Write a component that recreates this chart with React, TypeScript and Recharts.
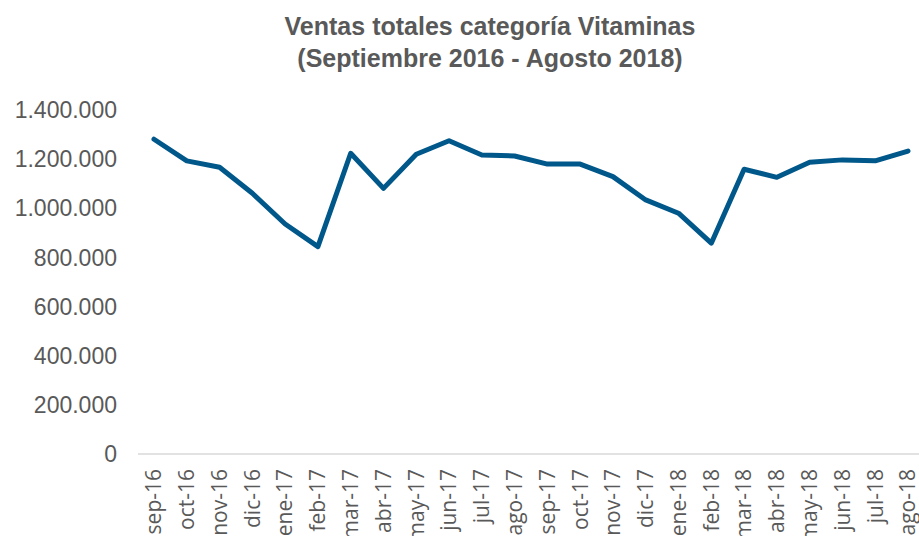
import React from 'react';
import { LineChart, Line, XAxis, YAxis } from 'recharts';

const months = [
  'sep-16', 'oct-16', 'nov-16', 'dic-16', 'ene-17', 'feb-17', 'mar-17', 'abr-17',
  'may-17', 'jun-17', 'jul-17', 'ago-17', 'sep-17', 'oct-17', 'nov-17', 'dic-17',
  'ene-18', 'feb-18', 'mar-18', 'abr-18', 'may-18', 'jun-18', 'jul-18', 'ago-18',
];

const ventas = [
  1281000, 1193000, 1167000, 1061000, 936000, 844000, 1224000, 1081000,
  1220000, 1275000, 1217000, 1213000, 1180000, 1180000, 1129000, 1034000,
  980000, 858000, 1159000, 1126000, 1187000, 1197000, 1193000, 1233000,
];

const yTicks = [0, 200000, 400000, 600000, 800000, 1000000, 1200000, 1400000];

const data = months.map((m, i) => ({ mes: m, ventas: ventas[i] }));

const grey = '#595959';

const fmt = (v: number) => String(v).replace(/\B(?=(\d{3})+(?!\d))/g, '.');

const MonthTick = (props: any) => {
  const { x, y, payload } = props;
  return (
    <g transform={`translate(${x},${y + 7})`}>
      <text
        x={0}
        y={0}
        dy="0.35em"
        textAnchor="end"
        transform="rotate(-90)"
        fill={grey}
        fontSize={21}
        fontFamily="'Open Sans', sans-serif"
      >
        {payload.value}
      </text>
    </g>
  );
};

export default function App() {
  return (
    <div style={{ position: 'absolute', left: 0, top: 0, width: 919, height: 536, overflow: 'hidden', background: '#fff' }}>
      <div
        style={{
          position: 'absolute',
          left: 0,
          width: 980,
          top: 10,
          textAlign: 'center',
          fontFamily: "'Liberation Sans', Arial, sans-serif",
          fontWeight: 'bold',
          fontSize: 25,
          lineHeight: '32px',
          color: grey,
        }}
      >
        Ventas totales categoría Vitaminas
        <br />
        (Septiembre 2016 - Agosto 2018)
      </div>
      <LineChart width={930} height={536} data={data} margin={{ top: 110, right: 6, bottom: 0, left: 0 }}>
        <XAxis
          dataKey="mes"
          interval={0}
          height={82}
          tickLine={false}
          tick={<MonthTick />}
          axisLine={{ stroke: '#d9d9d9', strokeWidth: 1.5 }}
          padding={{ left: 16, right: 16 }}
        />
        <YAxis
          width={138}
          domain={[0, 1400000]}
          ticks={yTicks}
          tickFormatter={fmt}
          axisLine={false}
          tickLine={false}
          tickMargin={15}
          tick={{ fill: grey, fontSize: 23, fontFamily: "'Liberation Sans', Arial, sans-serif" }}
        />
        <Line
          type="linear"
          dataKey="ventas"
          stroke="#00578a"
          strokeWidth={5}
          strokeLinejoin="round"
          strokeLinecap="round"
          dot={false}
          isAnimationActive={false}
        />
      </LineChart>
    </div>
  );
}
